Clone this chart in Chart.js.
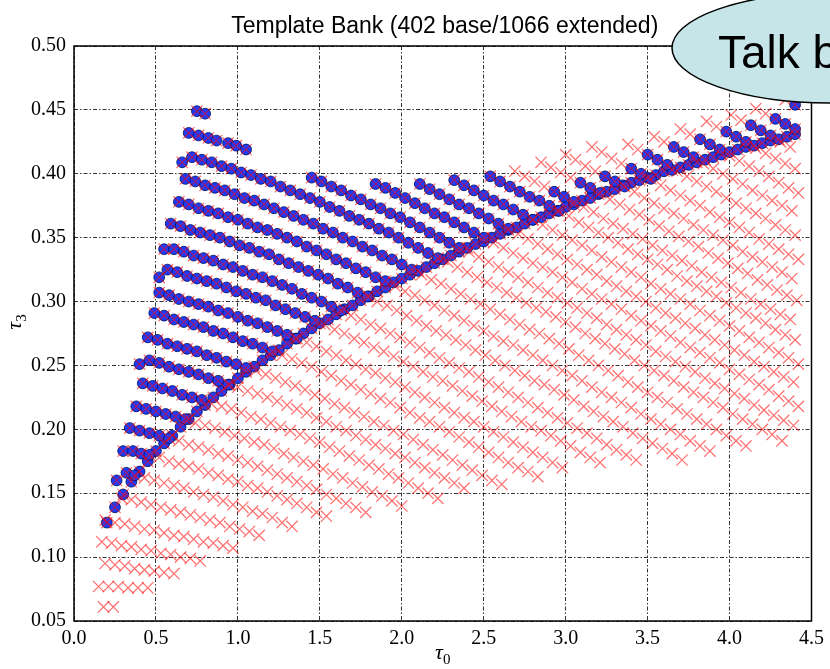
<!DOCTYPE html>
<html>
<head>
<meta charset="utf-8">
<script src="https://cdn.jsdelivr.net/npm/chart.js@4.4.0/dist/chart.umd.min.js"></script>
<style>
  html, body { margin: 0; padding: 0; background: #fff; }
</style>
</head>
<body>
<canvas id="bankChart" width="830" height="669"></canvas>
<script>
// tick positions
const xTickValues = [0, 0.5, 1.0, 1.5, 2.0, 2.5, 3.0, 3.5, 4.0, 4.5];
const yTickValues = [0.05, 0.10, 0.15, 0.20, 0.25, 0.30, 0.35, 0.40, 0.45, 0.50];

// base bank: lower edge of the region (tau0, tau3)
const baseCurve = [
  [.20,.127],[.25,.139],[.30,.149],[.35,.159],[.40,.167],[.45,.175],[.50,.183],[.55,.189],[.60,.195],[.65,.202],
  [.70,.208],[.75,.214],[.80,.219],[.85,.225],[.90,.230],[.95,.235],[1.00,.240],[1.05,.245],[1.10,.249],[1.15,.254],
  [1.20,.258],[1.25,.262],[1.30,.267],[1.35,.271],[1.40,.275],[1.45,.279],[1.50,.283],[1.55,.286],[1.60,.290],[1.65,.294],
  [1.70,.297],[1.75,.301],[1.80,.304],[1.85,.308],[1.90,.311],[1.95,.315],[2.00,.318],[2.05,.321],[2.10,.324],[2.15,.327],
  [2.20,.330],[2.25,.333],[2.30,.336],[2.35,.339],[2.40,.342],[2.45,.345],[2.50,.347],[2.55,.350],[2.60,.353],[2.65,.356],
  [2.70,.358],[2.75,.361],[2.80,.364],[2.85,.366],[2.90,.369],[2.95,.371],[3.00,.374],[3.05,.376],[3.10,.379],[3.15,.381],
  [3.20,.384],[3.25,.386],[3.30,.388],[3.35,.391],[3.40,.393],[3.45,.395],[3.50,.397],[3.55,.399],[3.60,.402],[3.65,.403],
  [3.70,.405],[3.75,.407],[3.80,.409],[3.85,.411],[3.90,.413],[3.95,.415],[4.00,.417],[4.05,.419],[4.10,.421],[4.15,.422],
  [4.20,.424],[4.25,.426],[4.30,.427],[4.35,.429],[4.40,.431]
];

// base bank: rows above the lower edge
const baseRows = [
  [[.75,.449],[.80,.447]],
  [[.70,.432],[.76,.430],[.82,.428],[.87,.426],[.94,.424],[.99,.422],[1.05,.419]],
  [[.66,.409],[.72,.413],[.78,.411],[.84,.409],[.90,.406],[.96,.404],[1.02,.401],[1.08,.399],[1.14,.396],[1.20,.394],[1.26,.390],[1.32,.387],[1.38,.384],[1.44,.381],[1.50,.378],[1.56,.374],[1.62,.371],[1.68,.367],[1.74,.364],[1.80,.361],[1.86,.357],[1.92,.354],[1.98,.350],[2.04,.346],[2.10,.342],[2.16,.338],[2.22,.334]],
  [[.68,.396],[.74,.394],[.80,.391],[.86,.389],[.92,.387],[.98,.384],[1.04,.381],[1.10,.379],[1.16,.376],[1.22,.373],[1.28,.370],[1.34,.367],[1.40,.364],[1.46,.361],[1.52,.357],[1.58,.354],[1.64,.350],[1.70,.347],[1.76,.343],[1.82,.340],[1.88,.336],[1.94,.333],[2.00,.329],[2.06,.325]],
  [[.64,.378],[.70,.376],[.76,.373],[.82,.371],[.88,.369],[.94,.366],[1.00,.364],[1.06,.361],[1.12,.358],[1.18,.356],[1.24,.353],[1.30,.350],[1.36,.347],[1.42,.343],[1.48,.340],[1.54,.337],[1.60,.333],[1.66,.330],[1.72,.326],[1.78,.323],[1.84,.319],[1.90,.316]],
  [[.59,.361],[.65,.359],[.71,.356],[.77,.354],[.83,.352],[.89,.350],[.95,.347],[1.01,.344],[1.07,.342],[1.13,.339],[1.19,.337],[1.25,.333],[1.31,.330],[1.37,.327],[1.43,.324],[1.49,.321],[1.55,.318],[1.61,.314],[1.67,.311],[1.73,.307],[1.79,.304]],
  [[.55,.341],[.61,.341],[.67,.339],[.73,.336],[.79,.334],[.85,.332],[.91,.329],[.97,.327],[1.03,.324],[1.09,.321],[1.15,.319],[1.21,.316],[1.27,.313],[1.33,.310],[1.39,.306],[1.45,.303],[1.51,.300],[1.57,.296],[1.63,.293]],
  [[.52,.319],[.57,.325],[.63,.323],[.69,.320],[.75,.318],[.81,.316],[.87,.314],[.93,.311],[.99,.308],[1.05,.306],[1.11,.303],[1.17,.301],[1.23,.297],[1.29,.294],[1.35,.291],[1.41,.288],[1.47,.285]],
  [[.52,.307],[.58,.305],[.64,.302],[.70,.300],[.76,.298],[.82,.296],[.88,.293],[.94,.291],[1.00,.288],[1.06,.285],[1.12,.283],[1.18,.280],[1.24,.277],[1.30,.274],[1.36,.271]],
  [[.49,.291],[.55,.289],[.61,.286],[.67,.284],[.73,.282],[.79,.280],[.85,.277],[.91,.275],[.97,.272],[1.03,.269],[1.09,.267],[1.15,.264],[1.21,.261]],
  [[.45,.272],[.51,.270],[.57,.267],[.63,.265],[.69,.263],[.75,.261],[.81,.258],[.87,.256],[.93,.253],[.99,.251],[1.05,.248]],
  [[.40,.251],[.46,.254],[.52,.252],[.58,.249],[.64,.247],[.70,.245],[.76,.243],[.82,.240],[.88,.238],[.94,.235]],
  [[.42,.236],[.48,.234],[.54,.232],[.60,.230],[.66,.227],[.72,.225],[.78,.223]],
  [[.38,.218],[.44,.216],[.50,.214],[.56,.212],[.62,.210],[.68,.208]],
  [[.34,.201],[.40,.199],[.46,.197],[.52,.195],[.58,.193]],
  [[.30,.183],[.36,.183],[.41,.181],[.46,.180]],
  [[.26,.160],[.32,.166],[.37,.164]],
  [[1.45,.397],[1.51,.394],[1.57,.390],[1.63,.387],[1.69,.383],[1.75,.380],[1.81,.376],[1.87,.373],[1.93,.369],[1.99,.366],[2.05,.362],[2.11,.358],[2.17,.354],[2.23,.350],[2.29,.346],[2.35,.342]],
  [[1.84,.392],[1.90,.389],[1.96,.385],[2.02,.381],[2.08,.377],[2.14,.373],[2.20,.369],[2.26,.366],[2.32,.362],[2.38,.358],[2.44,.354],[2.50,.350]],
  [[2.11,.392],[2.17,.388],[2.23,.384],[2.29,.380],[2.35,.376],[2.41,.373],[2.47,.369],[2.53,.365],[2.59,.361],[2.65,.357]],
  [[2.32,.395],[2.38,.391],[2.44,.387],[2.50,.383],[2.56,.379],[2.62,.376],[2.68,.372],[2.74,.368],[2.80,.364]],
  [[2.54,.398],[2.60,.394],[2.66,.390],[2.72,.386],[2.78,.382],[2.84,.379],[2.90,.375],[2.96,.371]],
  [[2.93,.386],[2.99,.382],[3.05,.378]],
  [[3.09,.393],[3.15,.389],[3.21,.385]],
  [[3.24,.398],[3.30,.394],[3.36,.390]],
  [[3.40,.404],[3.46,.400],[3.52,.396]],
  [[3.50,.415],[3.56,.411],[3.62,.407]],
  [[3.66,.421],[3.72,.417],[3.78,.413]],
  [[3.82,.427],[3.88,.423],[3.94,.419]],
  [[3.98,.433],[4.04,.429],[4.10,.425]],
  [[4.13,.438],[4.19,.434],[4.25,.430]],
  [[4.28,.443],[4.34,.439],[4.40,.435]],
  [[4.40,.454]]
];

// extended bank: templates added on top of the base bank
const extendedRows = [
  [[2.28,.331],[2.34,.327],[2.40,.323],[2.46,.319],[2.52,.315],[2.58,.311],[2.64,.307],[2.70,.303],[2.76,.299],[2.82,.295],[2.88,.292],[2.94,.288],[3.00,.284],[3.06,.280],[3.12,.275],[3.18,.271],[3.24,.267],[3.30,.263],[3.36,.259],[3.42,.254],[3.48,.250],[3.54,.246],[3.60,.242],[3.66,.238],[3.72,.233],[3.78,.229],[3.84,.225],[3.90,.221],[3.96,.217],[4.02,.212],[4.08,.208],[4.14,.204],[4.20,.200],[4.26,.196],[4.32,.191]],
  [[2.12,.321],[2.18,.317],[2.24,.314],[2.30,.310],[2.36,.306],[2.42,.302],[2.48,.298],[2.54,.294],[2.60,.290],[2.66,.286],[2.72,.282],[2.78,.278],[2.84,.275],[2.90,.271],[2.96,.267],[3.02,.263],[3.08,.258],[3.14,.254],[3.20,.250],[3.26,.246],[3.32,.242],[3.38,.237],[3.44,.233],[3.50,.229],[3.56,.225],[3.62,.221],[3.68,.216],[3.74,.212],[3.80,.208],[3.86,.204],[3.92,.200],[3.98,.195],[4.04,.191],[4.10,.187]],
  [[1.96,.312],[2.02,.308],[2.08,.305],[2.14,.301],[2.20,.297],[2.26,.293],[2.32,.289],[2.38,.285],[2.44,.281],[2.50,.277],[2.56,.273],[2.62,.269],[2.68,.266],[2.74,.262],[2.80,.258],[2.86,.254],[2.92,.250],[2.98,.246],[3.04,.242],[3.10,.238],[3.16,.233],[3.22,.229],[3.28,.225],[3.34,.221],[3.40,.217],[3.46,.212],[3.52,.208],[3.58,.204],[3.64,.200],[3.70,.196],[3.76,.191],[3.82,.187],[3.88,.183]],
  [[1.85,.300],[1.91,.297],[1.97,.293],[2.03,.289],[2.09,.285],[2.15,.281],[2.21,.277],[2.27,.274],[2.33,.270],[2.39,.266],[2.45,.262],[2.51,.258],[2.57,.254],[2.63,.250],[2.69,.246],[2.75,.242],[2.81,.238],[2.87,.235],[2.93,.231],[2.99,.227],[3.05,.223],[3.11,.218],[3.17,.214],[3.23,.210],[3.29,.206],[3.35,.202],[3.41,.197],[3.47,.193],[3.53,.189],[3.59,.185],[3.65,.181],[3.71,.176]],
  [[1.69,.289],[1.75,.286],[1.81,.282],[1.87,.279],[1.93,.275],[1.99,.272],[2.05,.268],[2.11,.264],[2.17,.260],[2.23,.256],[2.29,.252],[2.35,.248],[2.41,.245],[2.47,.241],[2.53,.237],[2.59,.233],[2.65,.229],[2.71,.225],[2.77,.221],[2.83,.217],[2.89,.213],[2.95,.209],[3.01,.205],[3.07,.201],[3.13,.197],[3.19,.193],[3.25,.188],[3.31,.184],[3.37,.180],[3.43,.176]],
  [[1.53,.282],[1.59,.278],[1.65,.275],[1.71,.271],[1.77,.268],[1.83,.264],[1.89,.261],[1.95,.257],[2.01,.253],[2.07,.249],[2.13,.245],[2.19,.241],[2.25,.238],[2.31,.234],[2.37,.230],[2.43,.226],[2.49,.222],[2.55,.218],[2.61,.214],[2.67,.210],[2.73,.206],[2.79,.202],[2.85,.199],[2.91,.195],[2.97,.191],[3.03,.187],[3.09,.182],[3.15,.178],[3.21,.174]],
  [[1.42,.268],[1.48,.265],[1.54,.261],[1.60,.258],[1.66,.254],[1.72,.251],[1.78,.247],[1.84,.244],[1.90,.240],[1.96,.237],[2.02,.233],[2.08,.229],[2.14,.225],[2.20,.221],[2.26,.217],[2.32,.213],[2.38,.209],[2.44,.206],[2.50,.202],[2.56,.198],[2.62,.194],[2.68,.190],[2.74,.186],[2.80,.182],[2.86,.178],[2.92,.174],[2.98,.170]],
  [[1.27,.258],[1.33,.255],[1.39,.252],[1.45,.249],[1.51,.245],[1.57,.242],[1.63,.238],[1.69,.235],[1.75,.231],[1.81,.228],[1.87,.224],[1.93,.221],[1.99,.217],[2.05,.213],[2.11,.209],[2.17,.206],[2.23,.202],[2.29,.198],[2.35,.194],[2.41,.190],[2.47,.186],[2.53,.182],[2.59,.178],[2.65,.174],[2.71,.170],[2.77,.167],[2.83,.163]],
  [[1.11,.246],[1.17,.243],[1.23,.240],[1.29,.237],[1.35,.234],[1.41,.231],[1.47,.227],[1.53,.224],[1.59,.220],[1.65,.217],[1.71,.213],[1.77,.210],[1.83,.206],[1.89,.203],[1.95,.199],[2.01,.196],[2.07,.192],[2.13,.188],[2.19,.184],[2.25,.180],[2.31,.176],[2.37,.172],[2.43,.168],[2.49,.164],[2.55,.160],[2.61,.157]],
  [[1.00,.233],[1.06,.230],[1.12,.228],[1.18,.225],[1.24,.222],[1.30,.219],[1.36,.216],[1.42,.213],[1.48,.209],[1.54,.206],[1.60,.202],[1.66,.199],[1.72,.195],[1.78,.192],[1.84,.188],[1.90,.185],[1.96,.181],[2.02,.178],[2.08,.174],[2.14,.170],[2.20,.166],[2.26,.162],[2.32,.158],[2.38,.154]],
  [[.84,.220],[.90,.218],[.96,.216],[1.02,.213],[1.08,.210],[1.14,.208],[1.20,.205],[1.26,.202],[1.32,.199],[1.38,.196],[1.44,.193],[1.50,.190],[1.56,.186],[1.62,.183],[1.68,.179],[1.74,.176],[1.80,.172],[1.86,.169],[1.92,.165],[1.98,.162],[2.04,.158],[2.10,.154],[2.16,.150],[2.22,.146]],
  [[.74,.205],[.80,.203],[.86,.201],[.92,.198],[.98,.195],[1.04,.193],[1.10,.190],[1.16,.188],[1.22,.185],[1.28,.181],[1.34,.178],[1.40,.175],[1.46,.172],[1.52,.169],[1.58,.165],[1.64,.162],[1.70,.158],[1.76,.155],[1.82,.151],[1.88,.148],[1.94,.144],[2.00,.140]],
  [[.64,.191],[.70,.188],[.76,.186],[.82,.184],[.88,.181],[.94,.179],[1.00,.176],[1.06,.174],[1.12,.171],[1.18,.168],[1.24,.165],[1.30,.162],[1.36,.159],[1.42,.156],[1.48,.153],[1.54,.149],[1.60,.146],[1.66,.142],[1.72,.139],[1.78,.135]],
  [[.52,.178],[.58,.175],[.64,.173],[.70,.171],[.76,.169],[.82,.166],[.88,.164],[.94,.161],[1.00,.159],[1.06,.156],[1.12,.154],[1.18,.151],[1.24,.148],[1.30,.145],[1.36,.142],[1.42,.139],[1.48,.135],[1.54,.132]],
  [[.43,.162],[.49,.160],[.55,.158],[.61,.156],[.67,.154],[.73,.151],[.79,.149],[.85,.147],[.91,.144],[.97,.141],[1.03,.139],[1.09,.136],[1.15,.134],[1.21,.131],[1.27,.127],[1.33,.124]],
  [[.29,.146],[.35,.145],[.41,.143],[.47,.141],[.53,.139],[.59,.137],[.65,.135],[.71,.133],[.77,.131],[.83,.129],[.89,.127],[.95,.124],[1.01,.122],[1.07,.120],[1.13,.117]],
  [[.19,.129],[.25,.127],[.31,.126],[.37,.124],[.43,.122],[.49,.121],[.55,.119],[.61,.117],[.67,.116],[.73,.114],[.79,.112],[.85,.111],[.91,.109],[.97,.107]],
  [[.17,.112],[.23,.111],[.29,.109],[.35,.108],[.41,.106],[.47,.105],[.53,.103],[.59,.102],[.65,.100],[.71,.099],[.77,.097]],
  [[.19,.095],[.25,.094],[.31,.093],[.37,.091],[.43,.090],[.49,.089],[.55,.088],[.61,.087]],
  [[.15,.077],[.21,.077],[.27,.077],[.33,.076],[.39,.076],[.45,.076]],
  [[.18,.061],[.24,.061]],
  [[2.41,.339],[2.47,.335],[2.53,.331],[2.59,.327],[2.65,.323],[2.71,.319],[2.77,.315],[2.83,.311],[2.89,.307],[2.95,.303],[3.01,.299],[3.07,.295],[3.13,.291],[3.19,.287],[3.25,.282],[3.31,.278],[3.37,.274],[3.43,.270],[3.49,.266],[3.55,.261],[3.61,.257],[3.67,.253],[3.73,.249],[3.79,.245],[3.85,.240],[3.91,.236],[3.97,.232],[4.03,.228],[4.09,.224],[4.15,.219],[4.21,.215],[4.27,.211],[4.33,.207],[4.39,.203]],
  [[2.56,.346],[2.62,.342],[2.68,.338],[2.74,.334],[2.80,.330],[2.86,.327],[2.92,.323],[2.98,.319],[3.04,.315],[3.10,.310],[3.16,.306],[3.22,.302],[3.28,.298],[3.34,.294],[3.40,.289],[3.46,.285],[3.52,.281],[3.58,.277],[3.64,.273],[3.70,.268],[3.76,.264],[3.82,.260],[3.88,.256],[3.94,.252],[4.00,.247],[4.06,.243],[4.12,.239],[4.18,.235],[4.24,.231],[4.30,.226],[4.36,.222],[4.42,.218]],
  [[2.71,.353],[2.77,.349],[2.83,.345],[2.89,.341],[2.95,.337],[3.01,.333],[3.07,.329],[3.13,.325],[3.19,.321],[3.25,.316],[3.31,.312],[3.37,.308],[3.43,.304],[3.49,.300],[3.55,.295],[3.61,.291],[3.67,.287],[3.73,.283],[3.79,.279],[3.85,.274],[3.91,.270],[3.97,.266],[4.03,.262],[4.09,.258],[4.15,.253],[4.21,.249],[4.27,.245],[4.33,.241],[4.39,.237]],
  [[2.86,.360],[2.92,.356],[2.98,.352],[3.04,.348],[3.10,.344],[3.16,.340],[3.22,.335],[3.28,.331],[3.34,.327],[3.40,.323],[3.46,.319],[3.52,.314],[3.58,.310],[3.64,.306],[3.70,.302],[3.76,.298],[3.82,.293],[3.88,.289],[3.94,.285],[4.00,.281],[4.06,.277],[4.12,.272],[4.18,.268],[4.24,.264],[4.30,.260],[4.36,.256],[4.42,.251]],
  [[3.02,.367],[3.08,.362],[3.14,.358],[3.20,.354],[3.26,.350],[3.32,.346],[3.38,.341],[3.44,.337],[3.50,.333],[3.56,.329],[3.62,.325],[3.68,.320],[3.74,.316],[3.80,.312],[3.86,.308],[3.92,.304],[3.98,.299],[4.04,.295],[4.10,.291],[4.16,.287],[4.22,.283],[4.28,.278],[4.34,.274],[4.40,.270]],
  [[2.69,.402],[2.75,.398],[2.81,.394],[2.87,.390],[3.11,.374],[3.17,.370],[3.23,.365],[3.29,.361],[3.35,.357],[3.41,.353],[3.47,.349],[3.53,.344],[3.59,.340],[3.65,.336],[3.71,.332],[3.77,.328],[3.83,.323],[3.89,.319],[3.95,.315],[4.01,.311],[4.07,.307],[4.13,.302],[4.19,.298],[4.25,.294],[4.31,.290],[4.37,.286]],
  [[2.85,.409],[2.91,.405],[2.97,.401],[3.03,.397],[3.27,.380],[3.33,.376],[3.39,.372],[3.45,.368],[3.51,.364],[3.57,.359],[3.63,.355],[3.69,.351],[3.75,.347],[3.81,.343],[3.87,.338],[3.93,.334],[3.99,.330],[4.05,.326],[4.11,.322],[4.17,.317],[4.23,.313],[4.29,.309],[4.35,.305],[4.41,.301]],
  [[3.00,.415],[3.06,.411],[3.12,.406],[3.18,.402],[3.42,.386],[3.48,.381],[3.54,.377],[3.60,.373],[3.66,.369],[3.72,.365],[3.78,.360],[3.84,.356],[3.90,.352],[3.96,.348],[4.02,.344],[4.08,.339],[4.14,.335],[4.20,.331],[4.26,.327],[4.32,.323],[4.38,.318]],
  [[3.16,.421],[3.22,.417],[3.28,.412],[3.34,.408],[3.58,.391],[3.64,.387],[3.70,.383],[3.76,.379],[3.82,.375],[3.88,.370],[3.94,.366],[4.00,.362],[4.06,.358],[4.12,.354],[4.18,.349],[4.24,.345],[4.30,.341],[4.36,.337],[4.42,.333]],
  [[3.38,.423],[3.44,.419],[3.68,.402],[3.74,.398],[3.80,.394],[3.86,.390],[3.92,.386],[3.98,.381],[4.04,.377],[4.10,.373],[4.16,.369],[4.22,.365],[4.28,.360],[4.34,.356],[4.40,.352]],
  [[3.54,.429],[3.60,.425],[3.84,.408],[3.90,.404],[3.96,.400],[4.02,.396],[4.08,.392],[4.14,.387],[4.20,.383],[4.26,.379],[4.32,.375],[4.38,.371]],
  [[3.70,.435],[3.76,.431],[4.00,.414],[4.06,.410],[4.12,.406],[4.18,.402],[4.24,.398],[4.30,.393],[4.36,.389],[4.42,.385]],
  [[3.86,.441],[3.92,.437],[4.16,.420],[4.22,.416],[4.28,.412],[4.34,.408],[4.40,.404]],
  [[4.01,.446],[4.07,.442],[4.31,.425],[4.37,.421]],
  [[4.16,.451],[4.22,.447]],
  [[4.34,.458]]
];

const titleText = 'Template Bank (402 base/1066 extended)';

const toPoints = rows => rows.flat().map(p => ({ x: p[0], y: p[1] }));
const basePoints = toPoints([baseCurve].concat(baseRows));
const extendedPoints = basePoints.concat(toPoints(extendedRows));

const tickFont = { family: '"Liberation Serif", "DejaVu Serif", serif', size: 20 };

function drawTau(ctx, cx, cy, sub) {
  ctx.font = 'italic 22px "Liberation Serif", "DejaVu Serif", serif';
  const w1 = ctx.measureText('\u03c4').width;
  ctx.font = '15px "Liberation Serif", "DejaVu Serif", serif';
  const w2 = ctx.measureText(sub).width;
  const start = cx - (w1 + w2) / 2;
  ctx.textAlign = 'left';
  ctx.font = 'italic 22px "Liberation Serif", "DejaVu Serif", serif';
  ctx.fillText('\u03c4', start, cy);
  ctx.font = '15px "Liberation Serif", "DejaVu Serif", serif';
  ctx.fillText(sub, start + w1, cy + 5);
}

const decorations = {
  id: 'decorations',
  afterDraw(chart) {
    const { ctx, chartArea: a } = chart;
    ctx.save();
    ctx.strokeStyle = '#000';
    ctx.lineWidth = 1.5;
    ctx.strokeRect(a.left, a.top, a.right - a.left, a.bottom - a.top);

    ctx.fillStyle = '#000';
    ctx.textBaseline = 'alphabetic';
    ctx.textAlign = 'center';
    ctx.font = '23px "Liberation Sans", Arial, sans-serif';
    ctx.fillText(titleText, (a.left + a.right) / 2 + 2, 33);

    drawTau(ctx, (a.left + a.right) / 2, 659, '0');

    ctx.save();
    ctx.translate(21, 322);
    ctx.rotate(-Math.PI / 2);
    drawTau(ctx, 0, 0, '3');
    ctx.restore();

    // speech bubble over the top right corner
    ctx.beginPath();
    ctx.ellipse(830, 48, 158, 55, 0, 0, Math.PI * 2);
    ctx.fillStyle = '#c6e5e9';
    ctx.fill();
    ctx.lineWidth = 1.5;
    ctx.strokeStyle = '#000';
    ctx.stroke();
    ctx.fillStyle = '#000';
    ctx.textAlign = 'left';
    ctx.font = '46px "Liberation Sans", Arial, sans-serif';
    ctx.fillText('Talk b', 718, 68);
    ctx.restore();
  }
};

const ctx = document.getElementById('bankChart');

new Chart(ctx, {
  type: 'scatter',
  data: {
    datasets: [{
      label: 'extended',
      data: extendedPoints,
      order: 0,
      pointStyle: 'crossRot',
      pointRadius: 8,
      pointBorderWidth: 1.3,
      pointBorderColor: 'rgba(255,0,0,0.55)',
      pointBackgroundColor: 'rgba(0,0,0,0)'
    }, {
      label: 'base',
      data: basePoints,
      order: 1,
      pointStyle: 'circle',
      pointRadius: 5.4,
      pointBorderWidth: 0.8,
      pointBorderColor: '#000a50',
      pointBackgroundColor: '#1a3cff'
    }]
  },
  options: {
    responsive: false,
    animation: false,
    events: [],
    layout: { padding: { top: 46, right: 16, bottom: 0, left: 0 } },
    plugins: {
      legend: { display: false },
      title: { display: false },
      tooltip: { enabled: false }
    },
    scales: {
      x: {
        type: 'linear',
        min: 0,
        max: 4.5,
        afterBuildTicks: s => { s.ticks = xTickValues.map(v => ({ value: v })); },
        afterFit: s => { s.height = 48; },
        ticks: { callback: v => v.toFixed(1), font: tickFont, color: '#000', padding: 6, maxRotation: 0, autoSkip: false },
        grid: { color: '#000', lineWidth: 0.8, drawTicks: false },
        border: { display: false, dash: [4, 2, 1.5, 2] }
      },
      y: {
        type: 'linear',
        min: 0.05,
        max: 0.5,
        afterBuildTicks: s => { s.ticks = yTickValues.map(v => ({ value: v })); },
        afterFit: s => { s.width = 74; },
        ticks: { callback: v => v.toFixed(2), font: tickFont, color: '#000', padding: 8, autoSkip: false },
        grid: { color: '#000', lineWidth: 0.8, drawTicks: false },
        border: { display: false, dash: [4, 2, 1.5, 2] }
      }
    }
  },
  plugins: [decorations]
});
</script>
</body>
</html>
